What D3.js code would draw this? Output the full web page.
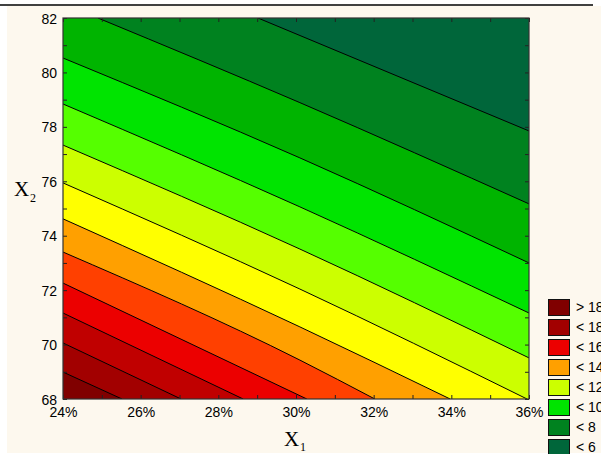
<!DOCTYPE html>
<html><head><meta charset="utf-8">
<script src="https://cdn.jsdelivr.net/npm/d3@7"></script>
<style>
html,body{margin:0;padding:0;background:#fff;overflow:hidden;}
svg{display:block;}
</style></head>
<body>
<script>
// ---- data ----
const xTicks = [24, 26, 28, 30, 32, 34, 36];      // X1 (%)
const xMinorTicks = [24,25,26,27,28,29,30,31,32,33,34,35,36];
const yTicks = [68, 70, 72, 74, 76, 78, 80, 82];  // X2
const yMinorTicks = [68,69,70,71,72,73,74,75,76,77,78,79,80,81,82];

// contour lines (ordered from low to high response), points in data coords [X1, X2]
const contourLines = [
  [[29.02, 82], [36, 77.85]],
  [[24.9, 82], [30.1, 78.89], [36, 75.17]],
  [[24, 80.53], [30.1, 76.86], [36, 73.0]],
  [[24, 78.84], [30.1, 75.06], [36, 71.16]],
  [[24, 77.33], [30.1, 73.51], [36, 69.51]],
  [[24, 75.94], [30.1, 72.04], [35.95, 68]],
  [[24, 74.62], [30.1, 70.65], [33.97, 68]],
  [[24, 73.40], [30.1, 69.43], [32.03, 68]],
  [[24, 72.26], [30.28, 68]],
  [[24, 71.16], [28.64, 68]],
  [[24, 70.06], [27.04, 68]],
  [[24, 68.99], [25.52, 68]]
];
// band colours, lowest band first
const bandColors = ["#00663a","#00821f","#00b400","#00e400","#55ff00","#ccff00",
                    "#ffff00","#ffa000","#ff4000","#ec0000","#c00000","#a20000","#800000"];

// legend (as visible, cut at the window edge)
const legendLabels = ["> 18", "< 18", "< 16", "< 14", "< 12", "< 10", "< 8", "< 6"];
const legendColors = ["#800000","#a20000","#ec0000","#ffa000","#ccff00","#00e400","#00821f","#00663a"];

// ---- drawing ----
const W = 601, H = 454;
const svg = d3.select("body").append("svg").attr("width", W).attr("height", H);

svg.append("rect").attr("x", 7).attr("y", 6).attr("width", W - 7).attr("height", 447).attr("fill", "#fdf8ee");
svg.append("line").attr("x1", 0).attr("x2", 593).attr("y1", 5).attr("y2", 5)
  .attr("stroke", "#000").attr("stroke-width", 1.5);

const x = d3.scaleLinear().domain([24, 36]).range([63, 529]);
const y = d3.scaleLinear().domain([68, 82]).range([399, 18]);

svg.append("clipPath").attr("id", "plotclip").append("rect")
  .attr("x", x(24)).attr("y", y(82)).attr("width", x(36) - x(24)).attr("height", y(68) - y(82));

const plot = svg.append("g").attr("clip-path", "url(#plotclip)");
plot.append("rect").attr("x", x(24)).attr("y", y(82))
  .attr("width", x(36) - x(24)).attr("height", y(68) - y(82)).attr("fill", bandColors[0]);

const lineGen = d3.line().x(d => x(d[0])).y(d => y(d[1])).curve(d3.curveMonotoneX);

contourLines.forEach((pts, i) => {
  const start = pts[0], end = pts[pts.length - 1];
  let p = lineGen(pts);
  if (end[0] >= 36 && end[1] > 68) p += "L" + x(36) + "," + y(68);
  p += "L" + x(24) + "," + y(68);
  if (start[1] >= 82 && start[0] > 24) p += "L" + x(24) + "," + y(82);
  p += "Z";
  plot.append("path").attr("d", p).attr("fill", bandColors[i + 1]).attr("stroke", "none");
});
contourLines.forEach(pts => {
  plot.append("path").attr("d", lineGen(pts)).attr("fill", "none")
    .attr("stroke", "#000").attr("stroke-width", 1);
});

// ticks (inward)
const tickLen = 4;
const axB = svg.append("g").attr("transform", `translate(0,${y(68)})`)
  .call(d3.axisBottom(x).tickValues(xMinorTicks).tickSize(-tickLen).tickFormat(""));
const axT = svg.append("g").attr("transform", `translate(0,${y(82)})`)
  .call(d3.axisTop(x).tickValues(xMinorTicks).tickSize(-tickLen).tickFormat(""));
const axL = svg.append("g").attr("transform", `translate(${x(24)},0)`)
  .call(d3.axisLeft(y).tickValues(yMinorTicks).tickSize(-tickLen).tickFormat(""));
const axR = svg.append("g").attr("transform", `translate(${x(36)},0)`)
  .call(d3.axisRight(y).tickValues(yMinorTicks).tickSize(-tickLen).tickFormat(""));
[axB, axT, axL, axR].forEach(g => {
  g.select(".domain").remove();
  g.selectAll(".tick line").attr("stroke", "#222");
});

// tick labels
const lblB = svg.append("g").attr("transform", `translate(0,${y(68) + 5})`)
  .call(d3.axisBottom(x).tickValues(xTicks).tickSize(0).tickPadding(0).tickFormat(d => d + "%"));
const lblL = svg.append("g").attr("transform", `translate(57,0)`)
  .call(d3.axisLeft(y).tickValues(yTicks).tickSize(0).tickPadding(0).tickFormat(d => d));
[lblB, lblL].forEach(g => {
  g.select(".domain").remove();
  g.selectAll("text").attr("font-family", "'Liberation Sans', Arial, sans-serif")
    .attr("font-size", 14).attr("fill", "#000");
});
lblB.selectAll("text").attr("dy", "0.95em");
lblL.selectAll("text").attr("dy", "0.36em");

// plot border
svg.append("rect").attr("x", x(24)).attr("y", y(82))
  .attr("width", x(36) - x(24)).attr("height", y(68) - y(82))
  .attr("fill", "none").attr("stroke", "#333").attr("stroke-width", 1.2);

// axis titles
const serif = "'Liberation Serif', 'Times New Roman', serif";
svg.append("text").attr("x", 14).attr("y", 196).attr("font-family", serif).attr("font-size", 21).text("X");
svg.append("text").attr("x", 30).attr("y", 202).attr("font-family", serif).attr("font-size", 12).text("2");
svg.append("text").attr("x", 284).attr("y", 446).attr("font-family", serif).attr("font-size", 21).text("X");
svg.append("text").attr("x", 300).attr("y", 451).attr("font-family", serif).attr("font-size", 12).text("1");

// legend
const leg = svg.append("g");
legendLabels.forEach((lab, i) => {
  const yy = 299 + i * 20;
  leg.append("rect").attr("x", 548.5).attr("y", yy + 0.5).attr("width", 21).attr("height", 16)
    .attr("fill", legendColors[i]).attr("stroke", "#111").attr("stroke-width", 1);
  leg.append("text").attr("x", 576).attr("y", yy + 13)
    .attr("font-family", "'Liberation Sans', Arial, sans-serif").attr("font-size", 14).text(lab);
});
</script>
</body></html>
